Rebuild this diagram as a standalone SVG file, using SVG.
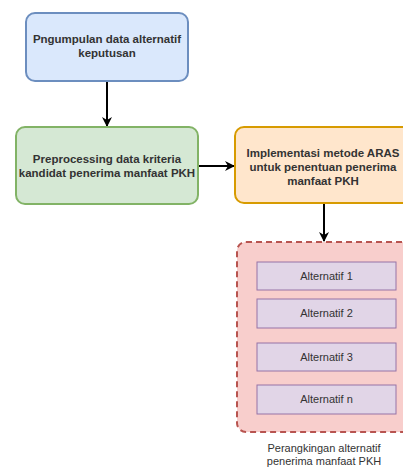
<svg xmlns="http://www.w3.org/2000/svg" width="403" height="468" viewBox="0 0 403 468">
<style>
.t{font-family:"Liberation Sans",Arial,sans-serif;font-size:11px;fill:#333;text-anchor:middle}
.b{font-weight:bold;font-size:11.5px}
.e{fill:none;stroke:#000;stroke-width:2}
</style>
<defs>
<marker id="ah" viewBox="0 0 10 10" refX="9" refY="5" markerWidth="10" markerHeight="10" orient="auto" markerUnits="userSpaceOnUse">
<path d="M0,0 L10,5 L0,10 L3,5 Z" fill="#000"/>
</marker>
</defs>
<rect width="403" height="468" fill="#fff"/>
<g id="connectors">
<path class="e" d="M107,81 V126" marker-end="url(#ah)"/>
<path class="e" d="M198,166 H234" marker-end="url(#ah)"/>
<path class="e" d="M324,203 V241" marker-end="url(#ah)"/>
</g>
<g id="n1">
<rect x="26" y="13" width="162" height="68" rx="9" fill="#dae8fc" stroke="#6c8ebf" stroke-width="2"/>
<text class="t b" x="107" y="43">Pngumpulan data alternatif</text>
<text class="t b" x="107" y="57">keputusan</text>
</g>
<g id="n2">
<rect x="16" y="127" width="182" height="77" rx="9" fill="#d5e8d4" stroke="#82b366" stroke-width="2"/>
<text class="t b" x="107" y="163">Preprocessing data kriteria</text>
<text class="t b" x="107" y="177">kandidat penerima manfaat PKH</text>
</g>
<g id="n3">
<rect x="235" y="127" width="178" height="76" rx="9" fill="#ffe6cc" stroke="#d79b00" stroke-width="2"/>
<text class="t b" x="323" y="157">Implementasi metode ARAS</text>
<text class="t b" x="323" y="171">untuk penentuan penerima</text>
<text class="t b" x="323" y="185">manfaat PKH</text>
</g>
<g id="n4">
<rect x="237" y="242" width="178" height="190" rx="9" fill="#f8cecc" stroke="#b85450" stroke-width="2" stroke-dasharray="6 4"/>
<text class="t" x="324" y="452">Perangkingan alternatif</text>
<text class="t" x="324" y="465">penerima manfaat PKH</text>
</g>
<g id="a1">
<rect x="257" y="262" width="139" height="28" fill="#e1d5e7" stroke="#9673a6"/>
<text class="t" x="326.5" y="280">Alternatif 1</text>
</g>
<g id="a2">
<rect x="257" y="299" width="139" height="29" fill="#e1d5e7" stroke="#9673a6"/>
<text class="t" x="326.5" y="317">Alternatif 2</text>
</g>
<g id="a3">
<rect x="257" y="343" width="139" height="28" fill="#e1d5e7" stroke="#9673a6"/>
<text class="t" x="326.5" y="361">Alternatif 3</text>
</g>
<g id="a4">
<rect x="257" y="385" width="139" height="29" fill="#e1d5e7" stroke="#9673a6"/>
<text class="t" x="326.5" y="403">Alternatif n</text>
</g>
</svg>
